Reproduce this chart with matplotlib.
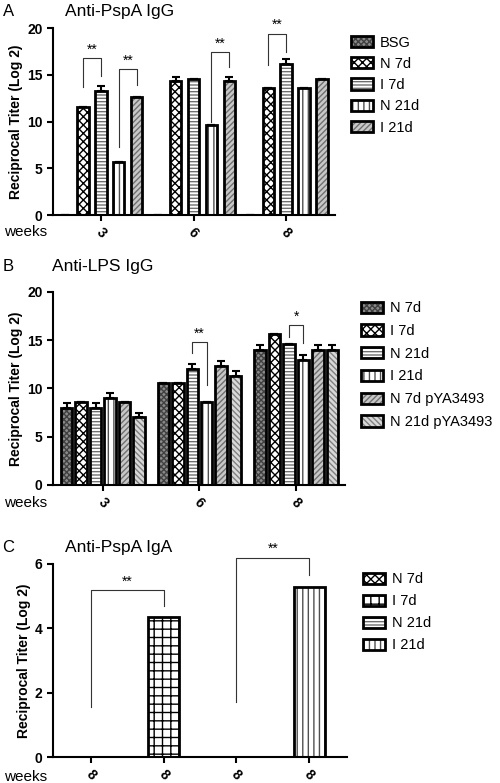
import numpy as np
import matplotlib
matplotlib.use("Agg")
import matplotlib.pyplot as plt
from matplotlib.patches import Patch
from matplotlib.legend_handler import HandlerTuple

plt.rcParams['font.family'] = ['Liberation Sans', 'DejaVu Sans']
plt.rcParams['hatch.linewidth'] = 1.0

# ---- Panel A data: Anti-PspA IgG ----
weeks_a = ["3", "6", "8"]
groups_a = ["BSG", "N 7d", "I 7d", "N 21d", "I 21d"]
vals_a = [
    [0.0, 0.0, 0.0],      # BSG
    [11.6, 14.3, 13.6],   # N 7d
    [13.3, 14.6, 16.2],   # I 7d
    [5.7, 9.6, 13.6],     # N 21d
    [12.6, 14.3, 14.6],   # I 21d
]
err_a = [
    [0, 0, 0],
    [0, 0.5, 0],
    [0.5, 0, 0.5],
    [0, 0, 0],
    [0, 0.5, 0],
]

# ---- Panel B data: Anti-LPS IgG ----
weeks_b = ["3", "6", "8"]
groups_b = ["N 7d", "I 7d", "N 21d", "I 21d", "N 7d pYA3493", "N 21d pYA3493"]
vals_b = [
    [8.0, 10.6, 14.0],
    [8.6, 10.6, 15.6],
    [8.0, 12.0, 14.6],
    [9.0, 8.6, 13.0],
    [8.6, 12.3, 14.0],
    [7.0, 11.3, 14.0],
]
err_b = [
    [0.5, 0, 0.5],
    [0, 0, 0],
    [0.5, 0.5, 0],
    [0.5, 0, 0.5],
    [0, 0.5, 0.5],
    [0.5, 0.5, 0.5],
]

# ---- Panel C data: Anti-PspA IgA ----
groups_c = ["N 7d", "I 7d", "N 21d", "I 21d"]
ticks_c = ["8", "8", "8", "8"]
vals_c = [0.0, 4.35, 0.0, 5.3]

# fill styles: (facecolor, hatch, hatch colour)
style = {
    "dark": ("#8a8a8a", "xxxxxx", "#404040"),
    "check": ("white", "xxxx", "black"),
    "hline": ("white", "-----", "#707070"),
    "vline": ("white", "|||", "#505050"),
    "diag": ("#c8c8c8", "//////", "#707070"),
    "diag2": ("#d8d8d8", "\\\\\\\\\\\\", "#808080"),
    "bigcheck": ("white", "++", "black"),
}
fills_a = ["dark", "check", "hline", "vline", "diag"]
fills_b = ["dark", "check", "hline", "vline", "diag", "diag2"]
fills_c = ["check", "bigcheck", "hline", "vline"]


def hbar(ax, x, h, w, key):
    fc, hatch, hc = style[key]
    ax.bar(x, h, w, color=fc, hatch=hatch, edgecolor=hc, linewidth=0, zorder=2)
    ax.bar(x, h, w, fill=False, edgecolor="black", linewidth=2, zorder=3)


def legend(ax, keys, labels, y, sp):
    handles = []
    for k in keys:
        fc, hatch, hc = style[k]
        handles.append((Patch(facecolor=fc, hatch=hatch, edgecolor=hc, linewidth=0),
                        Patch(fill=False, edgecolor="black", linewidth=2)))
    ax.legend(handles, labels, handler_map={tuple: HandlerTuple(ndivide=1, pad=0)},
              loc="upper left", bbox_to_anchor=(1.01, y), frameon=False, fontsize=10.5,
              handlelength=1.5, handleheight=0.8, labelspacing=sp, handletextpad=0.5)


def style_axes(ax, ymax, ystep):
    for s in ["top", "right"]:
        ax.spines[s].set_visible(False)
    for s in ["left", "bottom"]:
        ax.spines[s].set_linewidth(1.5)
    ax.set_ylim(0, ymax)
    ax.set_yticks(np.arange(0, ymax + 0.1, ystep))
    ax.tick_params(width=1.5, length=4)
    for t in ax.get_yticklabels():
        t.set_fontweight("bold")
        t.set_fontsize(10)
    ax.set_ylabel("Reciprocal Titer (Log 2)", fontsize=10, fontweight="bold", labelpad=3)


def bracket(ax, x1, x2, y1, ytop, y2, txt):
    ax.plot([x1, x1, x2, x2], [y1, ytop, ytop, y2], color="#333333", lw=0.8,
            zorder=4, clip_on=False)
    ax.annotate(txt, ((x1 + x2) / 2, ytop), xytext=(0, 1), textcoords="offset points",
                ha="center", va="bottom", fontsize=10, annotation_clip=False)


def xlabels(ax, pos, labels):
    ax.set_xticks(pos)
    ax.set_xticklabels(labels, rotation=-45, ha="center", fontsize=10, fontweight="bold")


fig = plt.figure(figsize=(5, 7.83), dpi=100)

# ----- A -----
ax = fig.add_axes([0.106, 0.7254, 0.564, 0.2388])
w = 0.115
centers = np.arange(3) * 0.93
for i, g in enumerate(groups_a):
    x = centers + (i - 2) * 0.18
    hbar(ax, x, vals_a[i], w, fills_a[i])
    ax.errorbar(x, vals_a[i], yerr=[np.zeros(3), err_a[i]], fmt="none", ecolor="black",
                elinewidth=1.5, capsize=3, capthick=1.5, zorder=5)
ax.set_xlim(centers[0] - 0.48, centers[-1] + 0.49)
style_axes(ax, 20, 5)
xlabels(ax, centers, weeks_a)
bracket(ax, centers[0] - 0.18, centers[0], 13.7, 16.8, 14.9, "**")
bracket(ax, centers[0] + 0.18, centers[0] + 0.36, 7.3, 15.6, 13.9, "**")
bracket(ax, centers[1] + 0.18, centers[1] + 0.36, 9.9, 17.4, 15.8, "**")
bracket(ax, centers[2] - 0.18, centers[2], 16.0, 19.4, 17.4, "**")
legend(ax, fills_a, groups_a, 1.03, 0.5)
fig.text(0.005, 0.985, "A", fontsize=12, va="center")
fig.text(0.13, 0.985, "Anti-PspA IgG", fontsize=12.5, va="center")
fig.text(0.008, 0.704, "weeks", fontsize=11, va="center")

# ----- B -----
ax = fig.add_axes([0.106, 0.3806, 0.584, 0.2465])
w = 0.115
centers = np.arange(3) * 0.97
for i, g in enumerate(groups_b):
    x = centers + (i - 2.5) * 0.145
    hbar(ax, x, vals_b[i], w, fills_b[i])
    ax.errorbar(x, vals_b[i], yerr=[np.zeros(3), err_b[i]], fmt="none", ecolor="black",
                elinewidth=1.5, capsize=3, capthick=1.5, zorder=5)
ax.set_xlim(centers[0] - 0.5, centers[-1] + 0.49)
style_axes(ax, 20, 5)
xlabels(ax, centers, weeks_b)
bracket(ax, centers[1] - 0.0725, centers[1] + 0.0725, 13.7, 14.8, 10.4, "**")
bracket(ax, centers[2] - 0.0725, centers[2] + 0.0725, 15.3, 16.6, 14.7, "*")
legend(ax, fills_b, groups_b, 1.02, 0.6)
fig.text(0.005, 0.66, "B", fontsize=12, va="center")
fig.text(0.105, 0.66, "Anti-LPS IgG", fontsize=12.5, va="center")
fig.text(0.008, 0.357, "weeks", fontsize=11, va="center")

# ----- C -----
ax = fig.add_axes([0.106, 0.0332, 0.588, 0.2465])
xc = np.arange(4)
for i, g in enumerate(groups_c):
    hbar(ax, xc[i], vals_c[i], 0.43, fills_c[i])
ax.set_xlim(-0.52, 3.52)
style_axes(ax, 6, 2)
xlabels(ax, xc, ticks_c)
bracket(ax, 0, 1, 1.55, 5.2, 4.7, "**")
bracket(ax, 2, 3, 1.7, 6.2, 5.65, "**")
legend(ax, fills_c, groups_c, 1.025, 0.55)
fig.text(0.005, 0.301, "C", fontsize=12, va="center")
fig.text(0.13, 0.301, "Anti-PspA IgA", fontsize=12.5, va="center")
fig.text(0.008, 0.008, "weeks", fontsize=11, va="center")

fig.savefig("out.png", dpi=100)
